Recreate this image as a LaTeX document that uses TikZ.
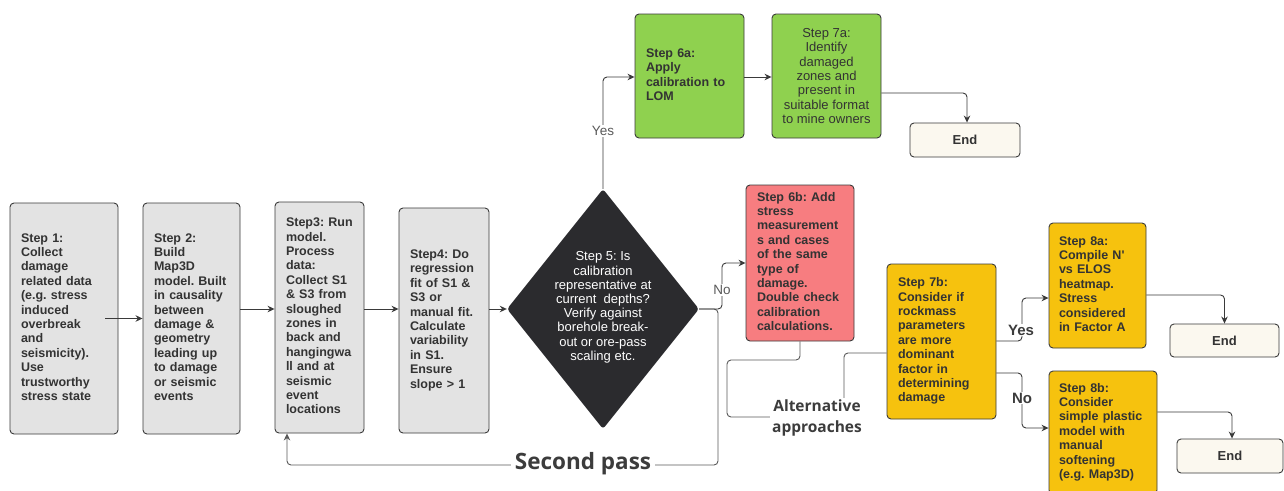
\documentclass[tikz,border=0pt]{standalone}
\usepackage{fontspec}
\setmainfont{Liberation Sans}
\newfontfamily\osans{Open Sans}
\usetikzlibrary{shapes.geometric,arrows.meta}
\frenchspacing
\newcommand\boxlines[1]{\begin{tabular}{@{}l@{}}#1\end{tabular}}
\definecolor{linec}{HTML}{3A3A3A}
\definecolor{txt}{HTML}{333333}
\definecolor{boxgrey}{HTML}{E3E3E3}
\definecolor{boxgreen}{HTML}{8FD14F}
\definecolor{boxred}{HTML}{F77D80}
\definecolor{boxyellow}{HTML}{F6C20E}
\definecolor{boxcream}{HTML}{FBF8EF}
\definecolor{dia}{HTML}{2B2B2E}
\definecolor{lbl}{HTML}{3C3C3C}
\tikzset{
  base/.style={draw=linec, line width=0.9pt, rounded corners=4pt, inner xsep=11pt, inner ysep=0pt,
    font=\bfseries\fontsize{12.5}{14.4}\selectfont, text=txt, align=left},
  grey/.style={base, fill=boxgrey},
  green/.style={base, fill=boxgreen},
  red/.style={base, fill=boxred},
  yellow/.style={base, fill=boxyellow},
  endbox/.style={draw=linec, line width=0.9pt, rounded corners=4pt, fill=boxcream, text=txt,
    font=\bfseries\fontsize{13}{15}\selectfont, inner sep=0pt},
  conn/.style={draw=linec, line width=0.9pt, rounded corners=4pt},
  arr/.style={-{Stealth[length=7pt,width=6.5pt]}},
  smalllbl/.style={fill=white, inner sep=1.5pt, text=black!65, font=\fontsize{13.5}{15}\selectfont},
  boldlbl/.style={fill=white, inner sep=1pt, text=lbl, font=\bfseries\fontsize{15}{17}\selectfont},
  biglbl/.style={fill=white, inner sep=2pt, text=lbl, font=\osans\bfseries\fontsize{15.5}{21}\selectfont, align=center},
}
\begin{document}
\begin{tikzpicture}[x=1pt,y=-1pt]
\clip (0,0) rectangle (1284,490);
\fill[white] (0,0) rectangle (1284,490);

% main row
\node[grey, minimum height=231pt, text width=86pt] (s1) at (64,318.5)
  {\boxlines{Step 1:\\Collect\\damage\\related data\\(e.g. stress\\induced\\overbreak\\and\\seismicity).\\Use\\trustworthy\\stress state}};
\node[grey, minimum height=231pt, text width=75pt] (s2) at (191.5,318.5)
  {\boxlines{Step 2:\\Build\\Map3D\\model. Built\\in causality\\between\\damage \&\\geometry\\leading up\\to damage\\or seismic\\events}};
\node[grey, minimum height=231pt, text width=67pt] (s3) at (319.5,317.5)
  {\boxlines{Step3: Run\\model.\\Process\\data:\\Collect S1\\\& S3 from\\sloughed\\zones in\\back and\\hangingwa\\ll and at\\seismic\\event\\locations}};
\node[grey, minimum height=225pt, text width=68pt] (s4) at (444,320.5)
  {\boxlines{Step4: Do\\regression\\fit of S1 \&\\S3 or\\manual fit.\\Calculate\\variability\\in S1.\\Ensure\\slope > 1}};

% decision
\node[diamond, fill=dia, minimum width=192pt, minimum height=240pt, inner sep=0pt, rounded corners=3pt] (d) at (603,309) {};
\node[text=white, align=center, font=\fontsize{13}{14.2}\selectfont] (dt) at (603,307.5)
  {Step 5: Is\\calibration\\representative at\\current\ \ depths?\\Verify against\\borehole break-\\out or ore-pass\\scaling etc.};

% upper branch
\node[green, minimum height=124pt, text width=87pt] (s6a) at (689.5,76)
  {\boxlines{Step 6a:\\Apply\\calibration to\\LOM}};
\node[green, minimum height=124pt, minimum width=109pt, inner xsep=0pt, align=center, font=\fontsize{13}{14.3}\selectfont] (s7a) at (826.5,76)
  {Step 7a:\\Identify\\damaged\\zones and\\present in\\suitable format\\to mine owners};
\node[endbox, minimum width=110pt, minimum height=34pt] (e1) at (965,140) {End};

% lower branch
\node[red, minimum height=156pt, text width=86pt] (s6b) at (800,263)
  {\boxlines{Step 6b: Add\\stress\\measurement\\s and cases\\of the same\\type of\\damage.\\Double check\\calibration\\calculations.}};
\node[yellow, minimum height=155pt, text width=87pt] (s7b) at (941.5,341.5)
  {\boxlines{Step 7b:\\Consider if\\rockmass\\parameters\\are more\\dominant\\factor in\\determining\\damage}};
\node[yellow, minimum height=125pt, text width=77pt, inner xsep=10pt] (s8a) at (1097.5,285.5)
  {\boxlines{Step 8a:\\Compile N\textquotesingle\\vs ELOS\\heatmap.\\Stress\\considered\\in Factor A}};
\node[yellow, minimum height=123pt, text width=88pt, inner xsep=10pt] (s8b) at (1103,432.5)
  {\boxlines{Step 8b:\\Consider\\simple plastic\\model with\\manual\\softening\\(e.g. Map3D)}};
\node[endbox, minimum width=109pt, minimum height=33pt] (e2) at (1224.5,340.5) {End};
\node[endbox, minimum width=106pt, minimum height=34pt] (e3) at (1230,456) {End};

% connectors main row
\draw[conn, arr] ([xshift=-13pt]s1.east) -- (s2.west);
\draw[conn, arr] (s2.east |- 0,309) -- (s3.west |- 0,309);
\draw[conn, arr] (s3.east |- 0,309) -- (s4.west |- 0,309);
\draw[conn, arr] (s4.east |- 0,309) -- (d.west);

% second pass loop
\draw[conn, arr, draw=black!65] (d.east) -- (718,309) -- (718,465) -| ([xshift=-32.5pt]s3.south);
% no branch
\draw[conn, arr] (d.east) -- (722,309) |- (s6b.west);
% yes branch
\draw[conn, arr] (d.north) |- (s6a.west |- 0,77);
\draw[conn, arr] (s6a.east |- 0,77) -- (s7a.west |- 0,77);
\draw[conn, arr] (s7a.east |- 0,93) -| ([xshift=2pt]e1.north);

% alternative approaches
\draw[conn, draw=black!65] (s6b.south) -- (800,360) -- (727,360) -- (727,417) -- (844,417) -- (844,353) -- (s7b.west |- 0,353);

% 7b branches
\draw[conn, arr] (s7b.east |- 0,341) -- (1022,341) |- (s8a.west |- 0,298);
\draw[conn, arr] (s7b.east |- 0,373) -- (1022,373) |- (s8b.west |- 0,428);
\draw[conn, arr] (s8a.east |- 0,295) -| (e2.north);
\draw[conn, arr] (s8b.east |- 0,412) -| ([xshift=2pt]e3.north);

% labels
\node[smalllbl] (lyes) at (603,131) {Yes};
\node[smalllbl] (lno) at (722,290) {No};
\node[boldlbl] (ryes) at (1021,330) {Yes};
\node[boldlbl] (rno) at (1022,398) {No};
\node[biglbl] (alt) at (817,418) {Alternative\\approaches};
\node[biglbl, font=\osans\bfseries\fontsize{22.5}{26}\selectfont, inner xsep=4pt] (sp) at (583,464) {Second pass};
\end{tikzpicture}
\end{document}
